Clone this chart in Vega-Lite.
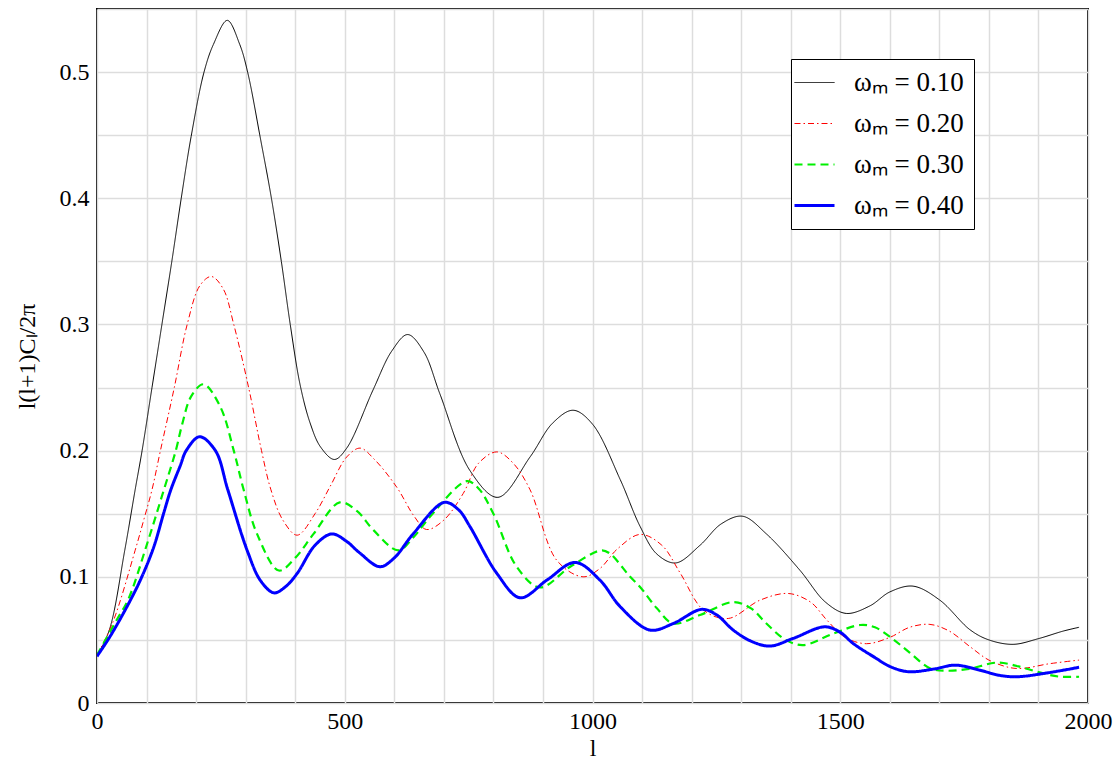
{
  "$schema": "https://vega.github.io/schema/vega-lite/v6.json",
  "width": 991,
  "height": 694,
  "autosize": {"type": "none"},
  "padding": {"left": 97, "top": 9, "right": 31, "bottom": 59},
  "background": "white",
  "config": {
    "view": {"stroke": "black", "strokeWidth": 2},
    "font": "'Liberation Serif', 'Times New Roman', serif",
    "axis": {
      "labelFont": "'Liberation Serif', 'Times New Roman', serif",
      "titleFont": "'Liberation Serif', 'Times New Roman', serif",
      "labelFontSize": 24,
      "titleFontSize": 24,
      "titleFontWeight": "normal",
      "labelColor": "black",
      "titleColor": "black",
      "gridColor": "#dddddd",
      "gridWidth": 1.5,
      "gridOpacity": 1,
      "ticks": false,
      "domain": false
    }
  },
  "data": {
    "values": [
      {"om": "ωₘ = 0.10", "l": 0, "v": 0.037},
      {"om": "ωₘ = 0.10", "l": 25, "v": 0.058},
      {"om": "ωₘ = 0.10", "l": 56, "v": 0.121},
      {"om": "ωₘ = 0.10", "l": 77, "v": 0.169},
      {"om": "ωₘ = 0.10", "l": 91, "v": 0.2},
      {"om": "ωₘ = 0.10", "l": 111, "v": 0.25},
      {"om": "ωₘ = 0.10", "l": 131, "v": 0.3},
      {"om": "ωₘ = 0.10", "l": 151, "v": 0.35},
      {"om": "ωₘ = 0.10", "l": 170, "v": 0.4},
      {"om": "ωₘ = 0.10", "l": 190, "v": 0.449},
      {"om": "ωₘ = 0.10", "l": 216, "v": 0.5},
      {"om": "ωₘ = 0.10", "l": 235, "v": 0.522},
      {"om": "ωₘ = 0.10", "l": 263, "v": 0.541},
      {"om": "ωₘ = 0.10", "l": 288, "v": 0.522},
      {"om": "ωₘ = 0.10", "l": 304, "v": 0.5},
      {"om": "ωₘ = 0.10", "l": 330, "v": 0.447},
      {"om": "ωₘ = 0.10", "l": 352, "v": 0.4},
      {"om": "ωₘ = 0.10", "l": 372, "v": 0.35},
      {"om": "ωₘ = 0.10", "l": 390, "v": 0.3},
      {"om": "ωₘ = 0.10", "l": 410, "v": 0.252},
      {"om": "ωₘ = 0.10", "l": 430, "v": 0.222},
      {"om": "ωₘ = 0.10", "l": 451, "v": 0.203},
      {"om": "ωₘ = 0.10", "l": 479, "v": 0.193},
      {"om": "ωₘ = 0.10", "l": 504, "v": 0.202},
      {"om": "ωₘ = 0.10", "l": 557, "v": 0.248},
      {"om": "ωₘ = 0.10", "l": 595, "v": 0.279},
      {"om": "ωₘ = 0.10", "l": 627, "v": 0.292},
      {"om": "ωₘ = 0.10", "l": 660, "v": 0.278},
      {"om": "ωₘ = 0.10", "l": 692, "v": 0.245},
      {"om": "ωₘ = 0.10", "l": 753, "v": 0.184},
      {"om": "ωₘ = 0.10", "l": 809, "v": 0.163},
      {"om": "ωₘ = 0.10", "l": 874, "v": 0.195},
      {"om": "ωₘ = 0.10", "l": 920, "v": 0.222},
      {"om": "ωₘ = 0.10", "l": 961, "v": 0.232},
      {"om": "ωₘ = 0.10", "l": 1000, "v": 0.221},
      {"om": "ωₘ = 0.10", "l": 1056, "v": 0.177},
      {"om": "ωₘ = 0.10", "l": 1096, "v": 0.14},
      {"om": "ωₘ = 0.10", "l": 1130, "v": 0.118},
      {"om": "ωₘ = 0.10", "l": 1168, "v": 0.111},
      {"om": "ωₘ = 0.10", "l": 1217, "v": 0.125},
      {"om": "ωₘ = 0.10", "l": 1260, "v": 0.142},
      {"om": "ωₘ = 0.10", "l": 1303, "v": 0.148},
      {"om": "ωₘ = 0.10", "l": 1351, "v": 0.134},
      {"om": "ωₘ = 0.10", "l": 1419, "v": 0.105},
      {"om": "ωₘ = 0.10", "l": 1470, "v": 0.08},
      {"om": "ωₘ = 0.10", "l": 1512, "v": 0.071},
      {"om": "ωₘ = 0.10", "l": 1560, "v": 0.077},
      {"om": "ωₘ = 0.10", "l": 1600, "v": 0.088},
      {"om": "ωₘ = 0.10", "l": 1647, "v": 0.0926},
      {"om": "ωₘ = 0.10", "l": 1701, "v": 0.0815},
      {"om": "ωₘ = 0.10", "l": 1762, "v": 0.058},
      {"om": "ωₘ = 0.10", "l": 1800, "v": 0.05},
      {"om": "ωₘ = 0.10", "l": 1849, "v": 0.0465},
      {"om": "ωₘ = 0.10", "l": 1900, "v": 0.051},
      {"om": "ωₘ = 0.10", "l": 1950, "v": 0.057},
      {"om": "ωₘ = 0.10", "l": 1982, "v": 0.06},

      {"om": "ωₘ = 0.20", "l": 0, "v": 0.038},
      {"om": "ωₘ = 0.20", "l": 32, "v": 0.064},
      {"om": "ωₘ = 0.20", "l": 77, "v": 0.121},
      {"om": "ωₘ = 0.20", "l": 95, "v": 0.146},
      {"om": "ωₘ = 0.20", "l": 111, "v": 0.169},
      {"om": "ωₘ = 0.20", "l": 128, "v": 0.2},
      {"om": "ωₘ = 0.20", "l": 156, "v": 0.25},
      {"om": "ωₘ = 0.20", "l": 182, "v": 0.3},
      {"om": "ωₘ = 0.20", "l": 208, "v": 0.331},
      {"om": "ωₘ = 0.20", "l": 231, "v": 0.338},
      {"om": "ωₘ = 0.20", "l": 255, "v": 0.328},
      {"om": "ωₘ = 0.20", "l": 276, "v": 0.3},
      {"om": "ωₘ = 0.20", "l": 306, "v": 0.25},
      {"om": "ωₘ = 0.20", "l": 332, "v": 0.2},
      {"om": "ωₘ = 0.20", "l": 351, "v": 0.169},
      {"om": "ωₘ = 0.20", "l": 375, "v": 0.145},
      {"om": "ωₘ = 0.20", "l": 404, "v": 0.133},
      {"om": "ωₘ = 0.20", "l": 440, "v": 0.15},
      {"om": "ωₘ = 0.20", "l": 471, "v": 0.172},
      {"om": "ωₘ = 0.20", "l": 504, "v": 0.195},
      {"om": "ωₘ = 0.20", "l": 531, "v": 0.202},
      {"om": "ωₘ = 0.20", "l": 560, "v": 0.193},
      {"om": "ωₘ = 0.20", "l": 605, "v": 0.171},
      {"om": "ωₘ = 0.20", "l": 640, "v": 0.148},
      {"om": "ωₘ = 0.20", "l": 665, "v": 0.1375},
      {"om": "ωₘ = 0.20", "l": 700, "v": 0.145},
      {"om": "ωₘ = 0.20", "l": 739, "v": 0.166},
      {"om": "ωₘ = 0.20", "l": 770, "v": 0.19},
      {"om": "ωₘ = 0.20", "l": 807, "v": 0.199},
      {"om": "ωₘ = 0.20", "l": 840, "v": 0.19},
      {"om": "ωₘ = 0.20", "l": 874, "v": 0.169},
      {"om": "ωₘ = 0.20", "l": 928, "v": 0.113},
      {"om": "ωₘ = 0.20", "l": 981, "v": 0.1},
      {"om": "ωₘ = 0.20", "l": 1015, "v": 0.1066},
      {"om": "ωₘ = 0.20", "l": 1050, "v": 0.122},
      {"om": "ωₘ = 0.20", "l": 1096, "v": 0.1336},
      {"om": "ωₘ = 0.20", "l": 1140, "v": 0.125},
      {"om": "ωₘ = 0.20", "l": 1177, "v": 0.103},
      {"om": "ωₘ = 0.20", "l": 1224, "v": 0.0736},
      {"om": "ωₘ = 0.20", "l": 1274, "v": 0.067},
      {"om": "ωₘ = 0.20", "l": 1338, "v": 0.0815},
      {"om": "ωₘ = 0.20", "l": 1395, "v": 0.0868},
      {"om": "ωₘ = 0.20", "l": 1440, "v": 0.08},
      {"om": "ωₘ = 0.20", "l": 1473, "v": 0.0657},
      {"om": "ωₘ = 0.20", "l": 1510, "v": 0.052},
      {"om": "ωₘ = 0.20", "l": 1553, "v": 0.047},
      {"om": "ωₘ = 0.20", "l": 1600, "v": 0.052},
      {"om": "ωₘ = 0.20", "l": 1640, "v": 0.06},
      {"om": "ωₘ = 0.20", "l": 1681, "v": 0.0623},
      {"om": "ωₘ = 0.20", "l": 1720, "v": 0.057},
      {"om": "ωₘ = 0.20", "l": 1762, "v": 0.0446},
      {"om": "ωₘ = 0.20", "l": 1800, "v": 0.034},
      {"om": "ωₘ = 0.20", "l": 1843, "v": 0.028},
      {"om": "ωₘ = 0.20", "l": 1870, "v": 0.0275},
      {"om": "ωₘ = 0.20", "l": 1920, "v": 0.031},
      {"om": "ωₘ = 0.20", "l": 1982, "v": 0.034},

      {"om": "ωₘ = 0.30", "l": 0, "v": 0.038},
      {"om": "ωₘ = 0.30", "l": 40, "v": 0.066},
      {"om": "ωₘ = 0.30", "l": 63, "v": 0.082},
      {"om": "ωₘ = 0.30", "l": 101, "v": 0.126},
      {"om": "ωₘ = 0.30", "l": 135, "v": 0.169},
      {"om": "ωₘ = 0.30", "l": 159, "v": 0.2},
      {"om": "ωₘ = 0.30", "l": 172, "v": 0.221},
      {"om": "ωₘ = 0.30", "l": 190, "v": 0.243},
      {"om": "ωₘ = 0.30", "l": 215, "v": 0.2526},
      {"om": "ωₘ = 0.30", "l": 249, "v": 0.2346},
      {"om": "ωₘ = 0.30", "l": 276, "v": 0.2},
      {"om": "ωₘ = 0.30", "l": 296, "v": 0.169},
      {"om": "ωₘ = 0.30", "l": 323, "v": 0.134},
      {"om": "ωₘ = 0.30", "l": 367, "v": 0.105},
      {"om": "ωₘ = 0.30", "l": 400, "v": 0.115},
      {"om": "ωₘ = 0.30", "l": 437, "v": 0.134},
      {"om": "ωₘ = 0.30", "l": 490, "v": 0.159},
      {"om": "ωₘ = 0.30", "l": 525, "v": 0.152},
      {"om": "ωₘ = 0.30", "l": 558, "v": 0.137},
      {"om": "ωₘ = 0.30", "l": 608, "v": 0.121},
      {"om": "ωₘ = 0.30", "l": 640, "v": 0.132},
      {"om": "ωₘ = 0.30", "l": 672, "v": 0.1475},
      {"om": "ωₘ = 0.30", "l": 746, "v": 0.1758},
      {"om": "ωₘ = 0.30", "l": 770, "v": 0.17},
      {"om": "ωₘ = 0.30", "l": 800, "v": 0.15},
      {"om": "ωₘ = 0.30", "l": 847, "v": 0.108},
      {"om": "ωₘ = 0.30", "l": 894, "v": 0.0916},
      {"om": "ωₘ = 0.30", "l": 955, "v": 0.108},
      {"om": "ωₘ = 0.30", "l": 1018, "v": 0.121},
      {"om": "ωₘ = 0.30", "l": 1035, "v": 0.1185},
      {"om": "ωₘ = 0.30", "l": 1076, "v": 0.1},
      {"om": "ωₘ = 0.30", "l": 1096, "v": 0.092},
      {"om": "ωₘ = 0.30", "l": 1130, "v": 0.075},
      {"om": "ωₘ = 0.30", "l": 1163, "v": 0.063},
      {"om": "ωₘ = 0.30", "l": 1217, "v": 0.0697},
      {"om": "ωₘ = 0.30", "l": 1284, "v": 0.08},
      {"om": "ωₘ = 0.30", "l": 1320, "v": 0.075},
      {"om": "ωₘ = 0.30", "l": 1351, "v": 0.063},
      {"om": "ωₘ = 0.30", "l": 1390, "v": 0.05},
      {"om": "ωₘ = 0.30", "l": 1425, "v": 0.0459},
      {"om": "ωₘ = 0.30", "l": 1486, "v": 0.055},
      {"om": "ωₘ = 0.30", "l": 1540, "v": 0.0618},
      {"om": "ωₘ = 0.30", "l": 1570, "v": 0.06},
      {"om": "ωₘ = 0.30", "l": 1607, "v": 0.0504},
      {"om": "ωₘ = 0.30", "l": 1640, "v": 0.04},
      {"om": "ωₘ = 0.30", "l": 1681, "v": 0.0275},
      {"om": "ωₘ = 0.30", "l": 1715, "v": 0.0256},
      {"om": "ωₘ = 0.30", "l": 1760, "v": 0.027},
      {"om": "ωₘ = 0.30", "l": 1816, "v": 0.032},
      {"om": "ωₘ = 0.30", "l": 1860, "v": 0.029},
      {"om": "ωₘ = 0.30", "l": 1897, "v": 0.0248},
      {"om": "ωₘ = 0.30", "l": 1940, "v": 0.021},
      {"om": "ωₘ = 0.30", "l": 1982, "v": 0.0208},

      {"om": "ωₘ = 0.40", "l": 0, "v": 0.037},
      {"om": "ωₘ = 0.40", "l": 26, "v": 0.0525},
      {"om": "ωₘ = 0.40", "l": 60, "v": 0.076},
      {"om": "ωₘ = 0.40", "l": 87, "v": 0.097},
      {"om": "ωₘ = 0.40", "l": 114, "v": 0.123},
      {"om": "ωₘ = 0.40", "l": 135, "v": 0.151},
      {"om": "ωₘ = 0.40", "l": 149, "v": 0.169},
      {"om": "ωₘ = 0.40", "l": 168, "v": 0.188},
      {"om": "ωₘ = 0.40", "l": 180, "v": 0.2},
      {"om": "ωₘ = 0.40", "l": 207, "v": 0.211},
      {"om": "ωₘ = 0.40", "l": 239, "v": 0.2},
      {"om": "ωₘ = 0.40", "l": 264, "v": 0.169},
      {"om": "ωₘ = 0.40", "l": 303, "v": 0.121},
      {"om": "ωₘ = 0.40", "l": 330, "v": 0.097},
      {"om": "ωₘ = 0.40", "l": 357, "v": 0.0873},
      {"om": "ωₘ = 0.40", "l": 380, "v": 0.092},
      {"om": "ωₘ = 0.40", "l": 404, "v": 0.1027},
      {"om": "ωₘ = 0.40", "l": 440, "v": 0.125},
      {"om": "ωₘ = 0.40", "l": 474, "v": 0.134},
      {"om": "ωₘ = 0.40", "l": 504, "v": 0.128},
      {"om": "ωₘ = 0.40", "l": 530, "v": 0.119},
      {"om": "ωₘ = 0.40", "l": 571, "v": 0.108},
      {"om": "ωₘ = 0.40", "l": 600, "v": 0.115},
      {"om": "ωₘ = 0.40", "l": 638, "v": 0.134},
      {"om": "ωₘ = 0.40", "l": 701, "v": 0.159},
      {"om": "ωₘ = 0.40", "l": 730, "v": 0.153},
      {"om": "ωₘ = 0.40", "l": 753, "v": 0.1396},
      {"om": "ωₘ = 0.40", "l": 807, "v": 0.1027},
      {"om": "ωₘ = 0.40", "l": 854, "v": 0.0834},
      {"om": "ωₘ = 0.40", "l": 908, "v": 0.0974},
      {"om": "ωₘ = 0.40", "l": 965, "v": 0.1114},
      {"om": "ωₘ = 0.40", "l": 1015, "v": 0.0974},
      {"om": "ωₘ = 0.40", "l": 1056, "v": 0.0763},
      {"om": "ωₘ = 0.40", "l": 1116, "v": 0.0578},
      {"om": "ωₘ = 0.40", "l": 1163, "v": 0.063},
      {"om": "ωₘ = 0.40", "l": 1220, "v": 0.0742},
      {"om": "ωₘ = 0.40", "l": 1250, "v": 0.07},
      {"om": "ωₘ = 0.40", "l": 1284, "v": 0.0578},
      {"om": "ωₘ = 0.40", "l": 1320, "v": 0.049},
      {"om": "ωₘ = 0.40", "l": 1358, "v": 0.0451},
      {"om": "ωₘ = 0.40", "l": 1405, "v": 0.0512},
      {"om": "ωₘ = 0.40", "l": 1469, "v": 0.0604},
      {"om": "ωₘ = 0.40", "l": 1500, "v": 0.056},
      {"om": "ωₘ = 0.40", "l": 1526, "v": 0.0472},
      {"om": "ωₘ = 0.40", "l": 1570, "v": 0.036},
      {"om": "ωₘ = 0.40", "l": 1600, "v": 0.029},
      {"om": "ωₘ = 0.40", "l": 1637, "v": 0.0248},
      {"om": "ωₘ = 0.40", "l": 1690, "v": 0.027},
      {"om": "ωₘ = 0.40", "l": 1732, "v": 0.03},
      {"om": "ωₘ = 0.40", "l": 1782, "v": 0.026},
      {"om": "ωₘ = 0.40", "l": 1820, "v": 0.022},
      {"om": "ωₘ = 0.40", "l": 1856, "v": 0.0208},
      {"om": "ωₘ = 0.40", "l": 1920, "v": 0.024},
      {"om": "ωₘ = 0.40", "l": 1982, "v": 0.0283}
    ]
  },
  "mark": {"type": "line", "interpolate": "catmull-rom", "clip": true},
  "encoding": {
    "x": {
      "field": "l",
      "type": "quantitative",
      "scale": {"domain": [0, 2000], "nice": false},
      "axis": {
        "title": "l",
        "values": [0,100,200,300,400,500,600,700,800,900,1000,1100,1200,1300,1400,1500,1600,1700,1800,1900,2000],
        "labelExpr": "datum.value % 500 === 0 ? format(datum.value, 'd') : ''",
        "labelPadding": 6,
        "titlePadding": 3,
        "labelFlush": false
      }
    },
    "y": {
      "field": "v",
      "type": "quantitative",
      "scale": {"domain": [0, 0.55], "nice": false, "zero": true},
      "axis": {
        "title": "l(l+1)Cₗ/2π",
        "values": [0,0.05,0.1,0.15,0.2,0.25,0.3,0.35,0.4,0.45,0.5,0.55],
        "labelExpr": "round(datum.value*100) % 10 === 0 && datum.value < 0.52 ? format(datum.value, '.1~f') : ''",
        "labelPadding": 8,
        "titlePadding": 20,
        "labelFlush": false
      }
    },
    "color": {
      "field": "om",
      "type": "nominal",
      "scale": {
        "domain": ["ωₘ = 0.10", "ωₘ = 0.20", "ωₘ = 0.30", "ωₘ = 0.40"],
        "range": ["black", "red", "#00f000", "blue"]
      },
      "legend": {
        "title": null,
        "orient": "none",
        "legendX": 694,
        "legendY": 50,
        "symbolType": "stroke",
        "symbolSize": 1600,
        "symbolStrokeWidth": 1.5,
        "labelFont": "'Liberation Serif', 'Times New Roman', serif",
        "labelFontSize": 27,
        "labelColor": "black",
        "labelOffset": 26,
        "rowPadding": 13,
        "padding": 10,
        "strokeColor": "black",
        "fillColor": "white",
        "cornerRadius": 0,
        "labelLimit": 300,
        "encode": {
          "symbols": {
            "update": {
              "strokeWidth": {"signal": "datum.value === 'ωₘ = 0.40' ? 3 : datum.value === 'ωₘ = 0.30' ? 2.2 : 1"}
            }
          }
        }
      }
    },
    "strokeDash": {
      "field": "om",
      "type": "nominal",
      "scale": {
        "domain": ["ωₘ = 0.10", "ωₘ = 0.20", "ωₘ = 0.30", "ωₘ = 0.40"],
        "range": [[1, 0], [6, 3, 1.5, 3], [8, 5], [1, 0]]
      },
      "legend": null
    },
    "strokeWidth": {
      "condition": [
        {"test": "datum.om === 'ωₘ = 0.40'", "value": 3},
        {"test": "datum.om === 'ωₘ = 0.30'", "value": 2.2}
      ],
      "value": 1
    }
  }
}
